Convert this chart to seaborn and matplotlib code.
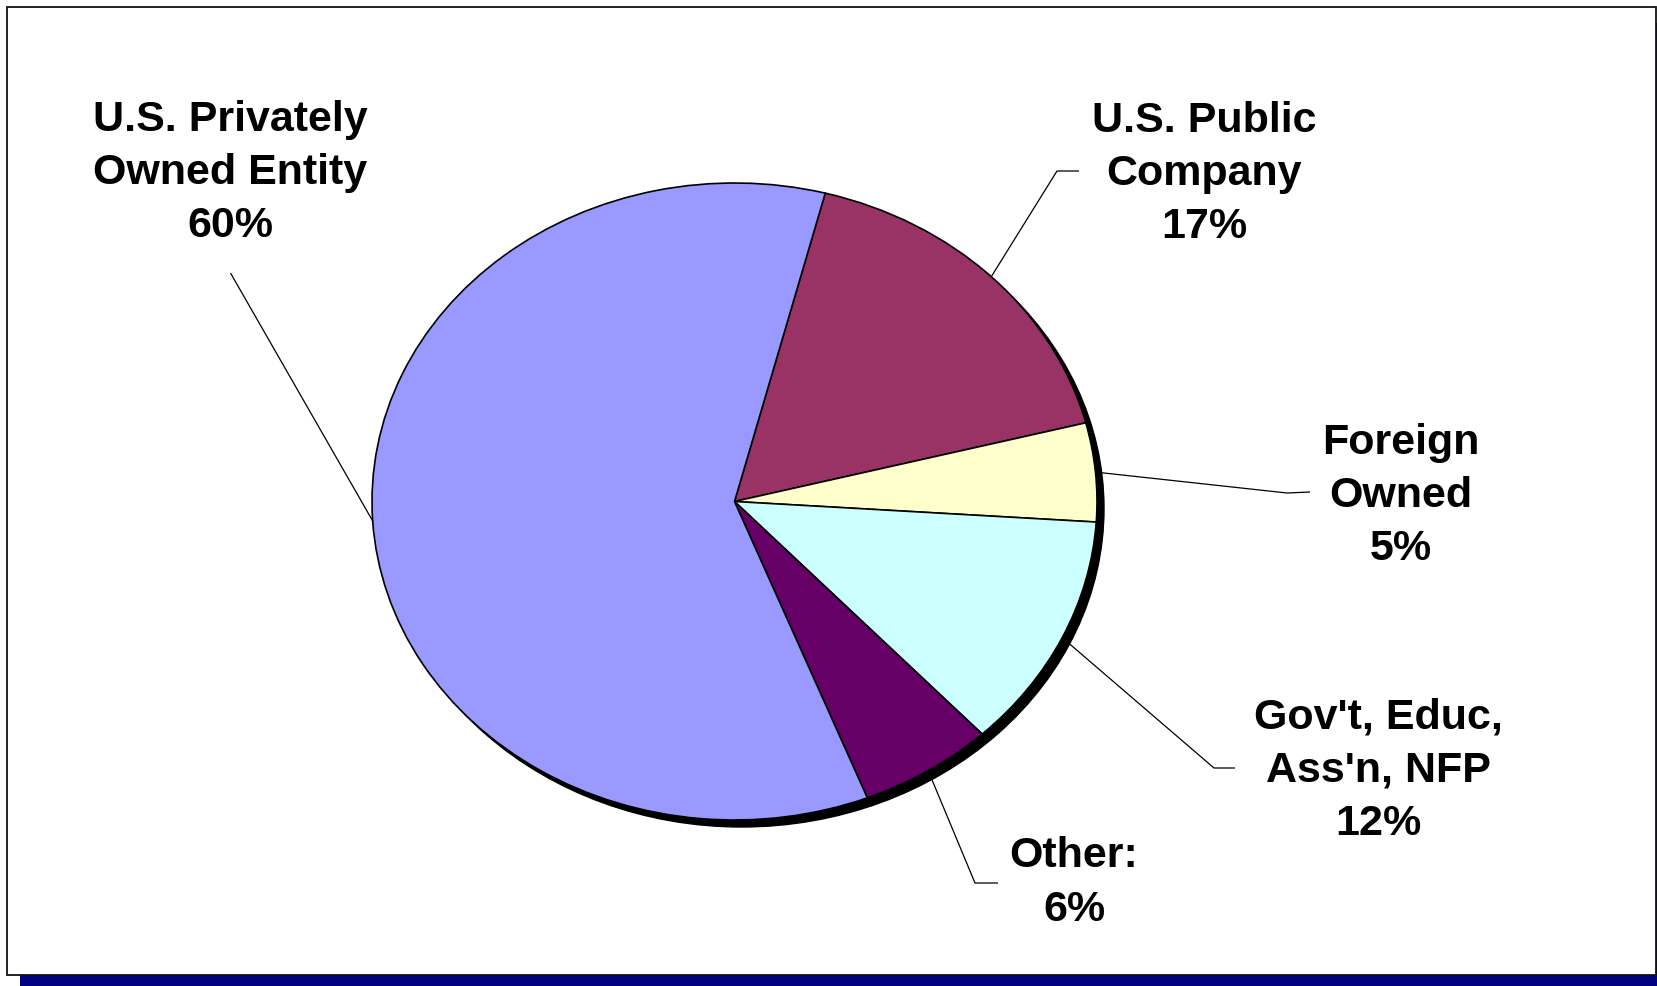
import numpy as np
import matplotlib
matplotlib.use("Agg")
import matplotlib.pyplot as plt
from matplotlib.patches import Rectangle, Ellipse
import seaborn as sns

# Ownership breakdown (percent of respondents)
categories = ["U.S. Public\nCompany", "Foreign\nOwned", "Gov't, Educ,\nAss'n, NFP",
              "Other:", "U.S. Privately\nOwned Entity"]
shares = [17, 5, 12, 6, 60]
colors = ["#993366", "#FFFFCC", "#CCFFFF", "#660066", "#9999FF"]

sns.set_theme(style="white")
plt.rcParams["font.family"] = ["Liberation Sans", "DejaVu Sans"]

W, H = 1658, 986
fig = plt.figure(figsize=(W / 100, H / 100), dpi=100)
fig.patch.set_facecolor("white")

# background panel with navy drop shadow
bg = fig.add_axes([0, 0, 1, 1], zorder=0)
bg.set_xlim(0, W)
bg.set_ylim(H, 0)
bg.axis("off")
bg.add_patch(Rectangle((20, 23), 1649, 968, facecolor="#000080", edgecolor="none"))
bg.add_patch(Rectangle((7, 7), 1649, 968, facecolor="white", edgecolor="#111111", lw=1.3))

# pie axes sized to the (slightly stretched) pie ellipse
cx, cy, rx, ry = 734.5, 501.5, 362.5, 318.5
pax = fig.add_axes([(cx - rx) / W, (H - cy - ry) / H, 2 * rx / W, 2 * ry / H], zorder=1)
pax.patch.set_alpha(0)
shadow = Ellipse((7 / rx, -7 / ry), 2, 2, facecolor="black", edgecolor="black",
                 lw=1.0, clip_on=False, zorder=0)
pax.add_patch(shadow)
wedges, _ = pax.pie(shares, colors=colors, startangle=75.5, counterclock=False,
                    wedgeprops=dict(edgecolor="black", linewidth=1.2, clip_on=False))
pax.set_aspect("auto")
pax.set_xlim(-1, 1)
pax.set_ylim(-1, 1)
pax.axis("off")

# labels with leader lines
ann = fig.add_axes([0, 0, 1, 1], zorder=2)
ann.set_xlim(0, W)
ann.set_ylim(H, 0)
ann.patch.set_alpha(0)
ann.axis("off")

label_pos = [(1204, 174), (1401, 496), (1378, 771), (1074, 883), (230, 173)]
leader_bends = [[(1057, 171), (1079, 171)],
                [(1287, 493), (1310, 492)],
                [(1214, 768), (1235, 768)],
                [(975, 883), (998, 883)],
                [(230.5, 273)]]

for w, name, val, (tx, ty), bends in zip(wedges, categories, shares, label_pos, leader_bends):
    mid = np.deg2rad((w.theta1 + w.theta2) / 2)
    sx = cx + rx * np.cos(mid)
    sy = cy - ry * np.sin(mid)
    xs = [sx] + [b[0] for b in bends]
    ys = [sy] + [b[1] for b in bends]
    ann.plot(xs, ys, color="black", lw=0.9, solid_capstyle="butt")
    ann.text(tx, ty, f"{name}\n{val}%", ha="center", va="center", fontsize=31,
             fontweight="bold", color="black", linespacing=1.42)

fig.savefig("out.png", dpi=100)
